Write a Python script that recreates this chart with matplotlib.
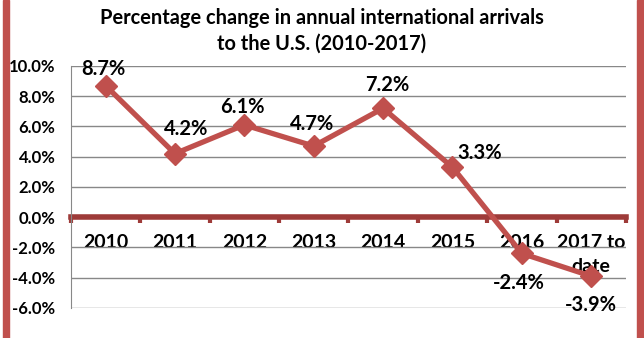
import matplotlib.pyplot as plt
from matplotlib.patches import Rectangle

years = ['2010', '2011', '2012', '2013', '2014', '2015', '2016', '2017 to\ndate']
change = [8.7, 4.2, 6.1, 4.7, 7.2, 3.3, -2.4, -3.9]
yticks = [-6, -4, -2, 0, 2, 4, 6, 8, 10]

red = '#C0504D'
dark_red = '#9E3B39'
font = 'Lato'

fig = plt.figure(figsize=(6.44, 3.38), dpi=100)
ax = fig.add_axes([0.110, 0.089, 0.862, 0.716])

x = list(range(len(years)))
ax.plot(x, change, color=red, lw=3.8, marker='D', ms=11, zorder=3)

# label offsets in pixels, relative to the point
offs = [(-2, 17), (11, 25), (-2, 18), (-2, 22), (4, 23), (27, 14), (-3, -30), (0, -29)]
for xi, v, o in zip(x, change, offs):
    ax.annotate(f'{v:.1f}%', (xi, v), xytext=o, textcoords='offset pixels',
                ha='center', va='center', fontsize=14.5, fontweight='bold',
                family=font, zorder=4)

ax.set_xlim(-0.5, len(years) - 0.5)
ax.set_ylim(-6, 10)
ax.set_yticks(yticks)
ax.set_yticklabels([f'{t:.1f}%' for t in yticks], fontsize=12,
                   fontweight='bold', family=font)
ax.tick_params(axis='y', length=0, pad=11)
ax.grid(axis='y', color='#888888', lw=1)
ax.set_axisbelow(True)

ax.spines['top'].set_visible(False)
ax.spines['right'].set_visible(False)
ax.spines['left'].set_color('#888888')
ax.spines['bottom'].set_position(('data', 0))
ax.spines['bottom'].set_color(dark_red)
ax.spines['bottom'].set_linewidth(4)
ax.spines['bottom'].set_zorder(2)

ax.set_xticks(x)
ax.set_xticklabels(years, fontsize=14, fontweight='bold', family=font, va='top',
                   linespacing=1.5)
ax.set_xticks([i - 0.5 for i in range(len(years) + 1)], minor=True)
ax.tick_params(axis='x', which='major', length=0, pad=12)
ax.tick_params(axis='x', which='minor', length=4, width=3, color=dark_red)

fig.text(0.5, 0.975, 'Percentage change in annual international arrivals\nto the U.S. (2010-2017)',
         ha='center', va='top', fontsize=14.4, fontweight='bold', family=font,
         linespacing=1.35)

fig.patches.append(Rectangle((3 / 644, 0), 6 / 644, 1, transform=fig.transFigure,
                             color=red, zorder=0))
fig.patches.append(Rectangle((637 / 644, 0), 7 / 644, 1, transform=fig.transFigure,
                             color=red, zorder=0))

fig.savefig('out.png', dpi=100)
